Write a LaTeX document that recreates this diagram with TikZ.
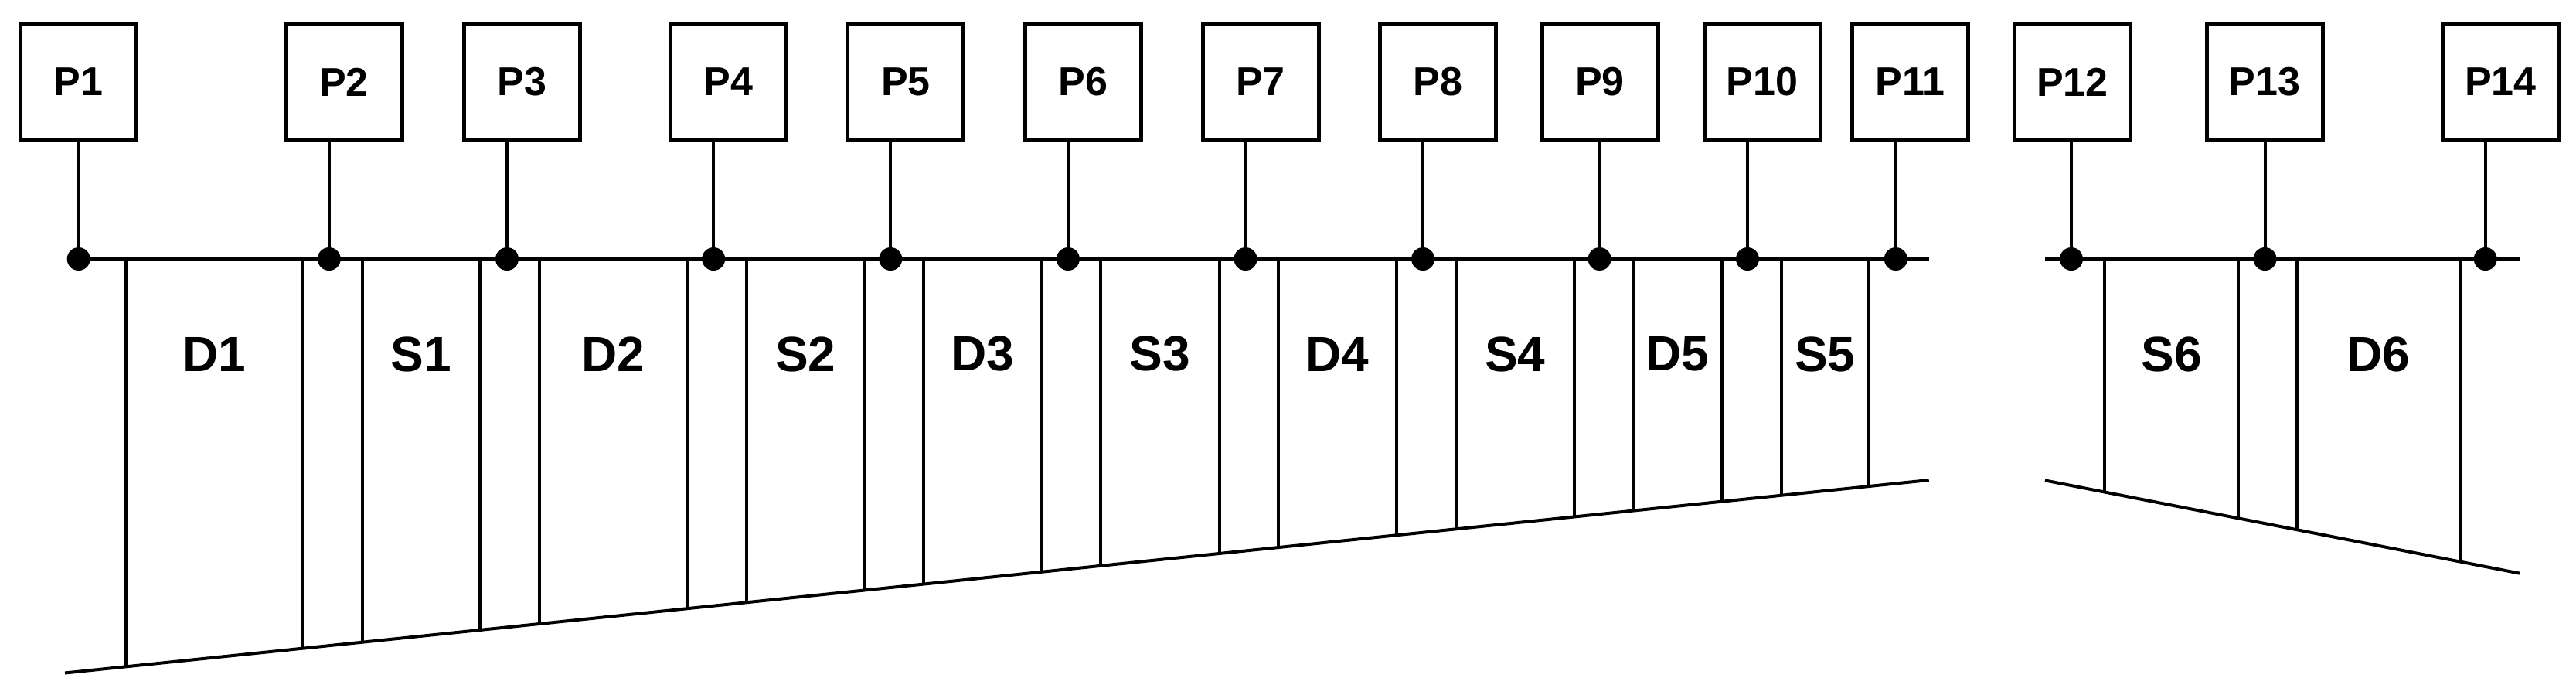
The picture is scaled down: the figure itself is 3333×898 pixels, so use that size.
\documentclass[tikz,border=0pt]{standalone}
\usepackage{fontspec}
\setmainfont{Liberation Sans}
\begin{document}
\begin{tikzpicture}[x=1pt,y=-1pt,line width=4pt,
  pbox/.style={draw,line width=5pt,minimum width=150pt,minimum height=150pt,font=\fontsize{52}{60}\selectfont\bfseries,inner sep=0pt},
  seg/.style={font=\fontsize{64}{72}\selectfont\bfseries},
  dot/.style={circle,fill,inner sep=0pt,minimum size=30pt}]
\useasboundingbox (0,0) rectangle (3333,898);
% boxes: name / stem x / box centre x
\foreach \n/\s/\c in {1/101.7/101.7,2/425.8/445,3/656/675.5,4/923.2/942.7,5/1152.3/1171.8,6/1381.9/1401.4,7/1611.5/1631,8/1841.1/1860.6,9/2069.6/2070,10/2261/2280,11/2452.8/2471.5,12/2680/2681.5,13/2930.5/2930,14/3215.7/3235.5}{
  \node[pbox] (P\n) at (\c,106) {P\n};
  \node[dot] (d\n) at (\s,335) {};
  \draw (P\n.south -| d\n) -- (d\n.center);
}
\draw (d1.center) -- (2495.7,335);
\draw (2645.9,335) -- (3259.9,335);
% bottom lines
\draw (84,870.5) -- (2495.7,621);
\draw (2645.9,621.4) -- (3259.9,741.6);
% verticals left part
\foreach \x in {162.7,391.4,468.6,620.8,698,888.8,966,1118.3,1194.8,1347.9,1424.4,1577.5,1654,1807.1,1883.6,2036.7,2113.2,2228,2304.6,2418}{
  \pgfmathsetmacro\yb{870.5-0.1035*(\x-84)}
  \draw (\x,335) -- (\x,\yb);
}
\foreach \x in {2723,2896,2972,3182.8}{
  \pgfmathsetmacro\yb{621.4+0.1958*(\x-2645.9)}
  \draw (\x,335) -- (\x,\yb);
}
\foreach \t/\a/\b in {D1/162.7/391.4,S1/468.6/620.8,D2/698/888.8,S2/966/1118.3,D3/1194.8/1347.9,S3/1424.4/1577.5,D4/1654/1807.1,S4/1883.6/2036.7,D5/2113.2/2228,S5/2304.6/2418,S6/2723/2896,D6/2972/3182.8}{
  \node[seg] (\t) at ({(\a+\b)/2},458) {\t};
}
\end{tikzpicture}
\end{document}
